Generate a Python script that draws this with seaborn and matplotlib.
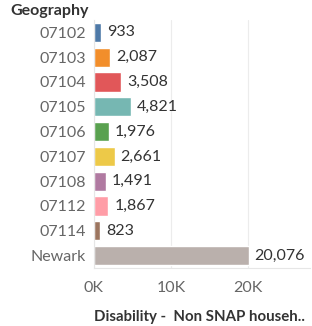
import matplotlib
matplotlib.use("Agg")
import matplotlib.pyplot as plt
import seaborn as sns
import pandas as pd
from matplotlib.ticker import FuncFormatter

geography = ["07102", "07103", "07104", "07105", "07106", "07107", "07108", "07112", "07114", "Newark"]
households = [933, 2087, 3508, 4821, 1976, 2661, 1491, 1867, 823, 20076]
colors = ["#4E79A7", "#F28E2B", "#E15759", "#76B7B2", "#59A14F",
          "#EDC948", "#B07AA1", "#FF9DA7", "#9C755F", "#BAB0AC"]

df = pd.DataFrame({"geo": geography, "val": households})

sns.set_style("white")
plt.rcParams["font.family"] = ["Lato", "DejaVu Sans"]

fig = plt.figure(figsize=(3.12, 3.26), dpi=100)
ax = fig.add_axes([94 / 312, 1 - 268 / 326, 216 / 312, 248 / 326])

sns.barplot(data=df, y="geo", x="val", hue="geo", palette=colors,
            legend=False, width=0.78, ax=ax, saturation=1)

for i, v in enumerate(households):
    ax.text(v + 750, i, f"{v:,}", va="center", ha="left", fontsize=11.5, color="#333333")

ax.set_xlim(0, 28000)
ax.set_xticks([0, 10000, 20000])
ax.xaxis.set_major_formatter(FuncFormatter(lambda x, p: f"{int(x / 1000)}K"))
ax.grid(axis="x", color="#ececec", linewidth=0.8)
ax.set_axisbelow(True)
for s in ["top", "right"]:
    ax.spines[s].set_visible(False)
ax.spines["left"].set_color("#e6e6e6")
ax.spines["bottom"].set_color("#e6e6e6")
ax.tick_params(axis="both", length=0, labelsize=11.5, labelcolor="#666666")
ax.tick_params(axis="y", pad=6)
ax.tick_params(axis="x", pad=9)
ax.set_ylabel("")
ax.set_xlabel("Disability -  Non SNAP househ..", fontsize=10.8, fontweight="bold",
              color="#333333", loc="left", labelpad=11)
fig.text(10 / 312, 1 - 11 / 326, "Geography", fontsize=11.5, fontweight="bold",
         color="#333333", va="center", ha="left")

fig.savefig("out.png", dpi=100)
